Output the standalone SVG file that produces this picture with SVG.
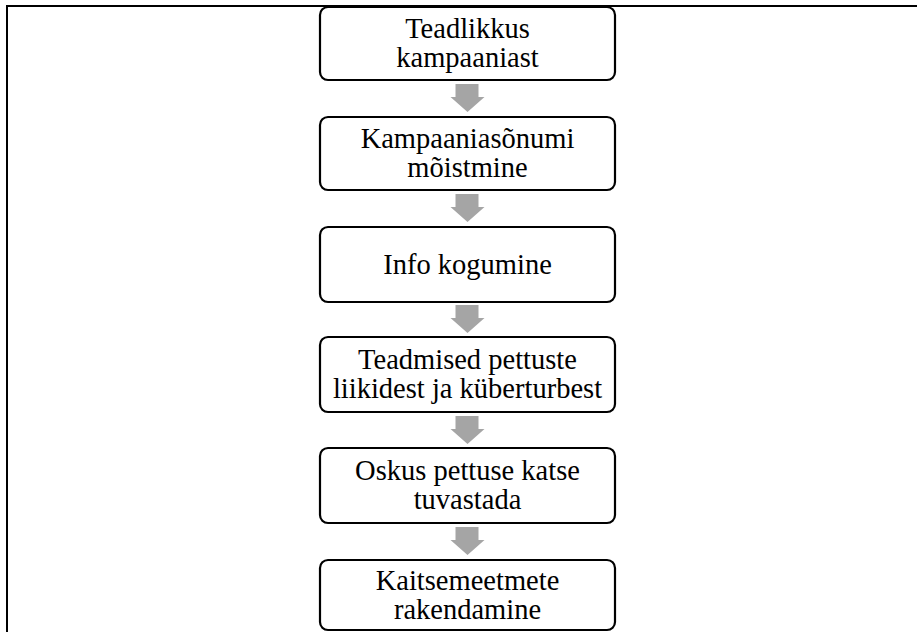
<svg xmlns="http://www.w3.org/2000/svg" width="917" height="632" viewBox="0 0 917 632">
<style>
.box{fill:#fff;stroke:#000;stroke-width:2.2}
.t{font-family:'Liberation Serif','DejaVu Serif',serif;font-size:28.5px;fill:#000;text-anchor:middle}
.arr{fill:#A5A5A5}
</style>
<defs>
<path id="arrow" class="arr" d="M-12,0 H11 V13 H17 L0,28 L-17,13 H-12 Z"/>
</defs>
<rect width="917" height="632" fill="#fff"/>
<path d="M7,632 V6 H917" fill="none" stroke="#000" stroke-width="2"/>
<g id="connectors">
<use href="#arrow" x="467.5" y="84"/>
<use href="#arrow" x="467.5" y="194"/>
<use href="#arrow" x="467.5" y="305"/>
<use href="#arrow" x="467.5" y="416"/>
<use href="#arrow" x="467.5" y="527"/>
</g>
<g font-family="Liberation Serif, serif">
<g id="n1"><rect class="box" x="320" y="7" width="295" height="73" rx="8"/><text class="t" x="467.5" y="38">Teadlikkus</text><text class="t" x="467.5" y="67">kampaaniast</text></g>
<g id="n2"><rect class="box" x="320" y="117" width="295" height="73" rx="8"/><text class="t" x="467.5" y="148">Kampaaniasõnumi</text><text class="t" x="467.5" y="177">mõistmine</text></g>
<g id="n3"><rect class="box" x="320" y="227" width="295" height="75" rx="8"/><text class="t" x="467.5" y="274">Info kogumine</text></g>
<g id="n4"><rect class="box" x="320" y="337" width="295" height="75" rx="8"/><text class="t" x="467.5" y="369">Teadmised pettuste</text><text class="t" x="467.5" y="398">liikidest ja küberturbest</text></g>
<g id="n5"><rect class="box" x="320" y="448" width="295" height="75" rx="8"/><text class="t" x="467.5" y="480">Oskus pettuse katse</text><text class="t" x="467.5" y="509">tuvastada</text></g>
<g id="n6"><rect class="box" x="320" y="560" width="295" height="70" rx="8"/><text class="t" x="467.5" y="590">Kaitsemeetmete</text><text class="t" x="467.5" y="619">rakendamine</text></g>
</g>
</svg>
